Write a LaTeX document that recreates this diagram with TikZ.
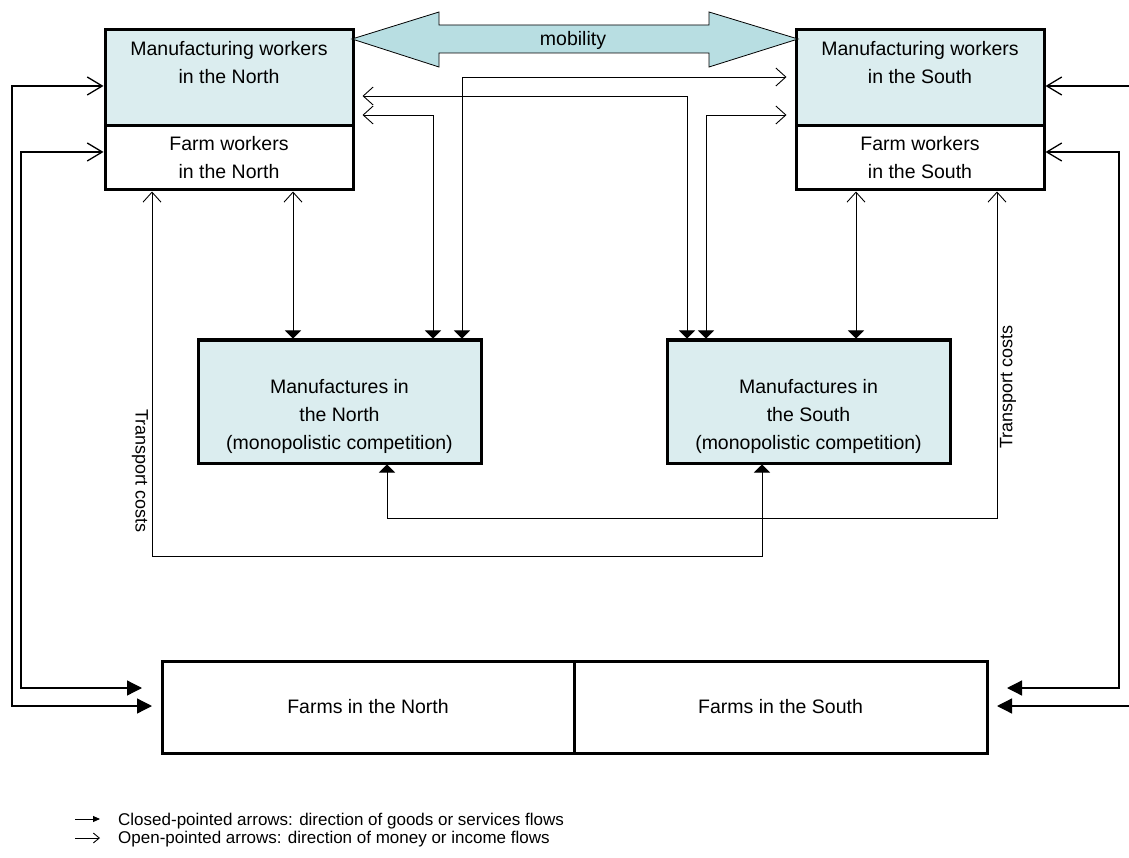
\documentclass[tikz,border=0pt]{standalone}
\usepackage{fontspec}
\setmainfont{Liberation Sans}
\usetikzlibrary{arrows.meta,calc}
\definecolor{boxfill}{RGB}{219,237,239}
\definecolor{mobfill}{RGB}{184,222,226}
\begin{document}
\begin{tikzpicture}[x=1pt,y=-1pt,
  font=\fontsize{19.5}{28}\selectfont,
  box/.style={draw, line width=3pt, inner sep=0pt, align=center},
  txt/.style={align=center, inner sep=0pt},
  conn/.style={line width=0.9pt},
  outer/.style={line width=1.3pt},
  openbig/.tip={Straight Barb[length=15pt,width=18pt]},
  opensm/.tip={Straight Barb[length=10pt,width=18pt]},
  flatt/.tip={Triangle[length=8pt,width=16pt]},
  bigt/.tip={Triangle[length=15pt,width=15pt]},
  tcfont/.style={font=\fontsize{18}{20}\selectfont},
  legfont/.style={font=\fontsize{17}{20}\selectfont}]
\fill[white] (0,0) rectangle (1129,858);
\useasboundingbox (0,0) rectangle (1129,858);

% boxes
\node[box, fill=boxfill, minimum width=248pt, minimum height=96pt] (mwN) at (229,78) {};
\node[txt] (mwNt) at (229,62.4) {Manufacturing workers\\in the North};
\node[box, fill=white, minimum width=248pt, minimum height=64pt] (fwN) at (229,158) {Farm workers\\in the North};
\node[box, fill=boxfill, minimum width=248pt, minimum height=96pt] (mwS) at (920,78) {};
\node[txt] (mwSt) at (920,62.4) {Manufacturing workers\\in the South};
\node[box, fill=white, minimum width=248pt, minimum height=64pt] (fwS) at (920,158) {Farm workers\\in the South};

\node[box, fill=boxfill, minimum width=283pt, minimum height=123pt] (mfN) at (339.5,401.5) {};
\node[txt] (mfNt) at (339.5,416.5) {Manufactures in\\the North\\(monopolistic competition)};
\node[box, fill=boxfill, minimum width=283pt, minimum height=123pt] (mfS) at (808.5,401.5) {};
\node[txt] (mfSt) at (808.5,416.5) {Manufactures in\\the South\\(monopolistic competition)};

\node[box, fill=white, minimum width=412pt, minimum height=92pt] (farmsN) at (368,707) {Farms in the North};
\node[box, fill=white, minimum width=413pt, minimum height=92pt] (farmsS) at (780.5,707) {Farms in the South};

% mobility arrow
\draw[line width=0.8pt, fill=mobfill] (352,39) -- (439,12) -- (439,25) -- (709,25) -- (709,12) -- (798,39)
  -- (709,67) -- (709,53) -- (439,53) -- (439,67) -- cycle;
\node[anchor=base] (mob) at (573,46) {mobility};

% outer loops to farms
\draw[outer, {openbig}-{bigt}, shorten >=8.5pt] (mwN.west |- 0,86) -- (12,86) -- (12,706) -- (farmsN.west |- 0,706);
\draw[outer, {openbig}-{bigt}, shorten >=18.5pt] (fwN.west |- 0,152) -- (21,152) -- (21,688) -- (farmsN.west |- 0,688);
\draw[outer, {openbig}-{bigt}, shorten >=8.5pt] (mwS.east |- 0,86) -- (1133,86) -- (1133,706) -- (farmsS.east |- 0,706);
\draw[outer, {openbig}-{bigt}, shorten >=18.5pt] (fwS.east |- 0,152) -- (1119,152) -- (1119,688) -- (farmsS.east |- 0,688);

% farm workers <-> manufactures
\draw[conn, {opensm}-{flatt}] (fwN.south -| 293,0) -- (mfN.north -| 293,0);
\draw[conn, {opensm}-{flatt}] (fwS.south -| 856,0) -- (mfS.north -| 856,0);

% manufacturing workers <-> manufactures
\draw[conn, {opensm}-{flatt}, shorten <=8pt] (mwN.east |- 0,115) -- (433,115) -- (mfN.north -| 433,0);
\draw[conn, {opensm}-{flatt}, shorten <=8pt] (mwS.west |- 0,77) -- (462,77) -- (mfN.north -| 462,0);
\draw[conn, {opensm}-{flatt}, shorten <=8pt] (mwN.east |- 0,96) -- (687,96) -- (mfS.north -| 687,0);
\draw[conn, {opensm}-{flatt}, shorten <=8pt] (mwS.west |- 0,115) -- (706,115) -- (mfS.north -| 706,0);

% transport costs
\draw[conn, {opensm}-{flatt}] (fwN.south -| 152,0) -- (152,556) -- (762,556) -- (mfS.south -| 762,0);
\draw[conn, {opensm}-{flatt}] (fwS.south -| 997,0) -- (997,518) -- (387,518) -- (mfN.south -| 387,0);
\node[tcfont, rotate=-90] (tcN) at (140,471) {Transport costs};
\node[tcfont, rotate=90] (tcS) at (1008,387) {Transport costs};

% legend
\coordinate (l1a) at (75,819); \coordinate (l1b) at (100,819);
\coordinate (l2a) at (75,838); \coordinate (l2b) at (100,838);
\draw[conn, -{Triangle[length=7pt,width=6pt]}] (l1a) -- (l1b);
\draw[conn, -{Straight Barb[length=6pt,width=10pt]}] (l2a) -- (l2b);
\node[legfont, anchor=base west, inner sep=0pt] (leg1) at (118,825) {Closed-pointed arrows: direction of goods or services flows};
\node[legfont, anchor=base west, inner sep=0pt] (leg2) at (118,843) {Open-pointed arrows: direction of money or income flows};
\end{tikzpicture}
\end{document}
